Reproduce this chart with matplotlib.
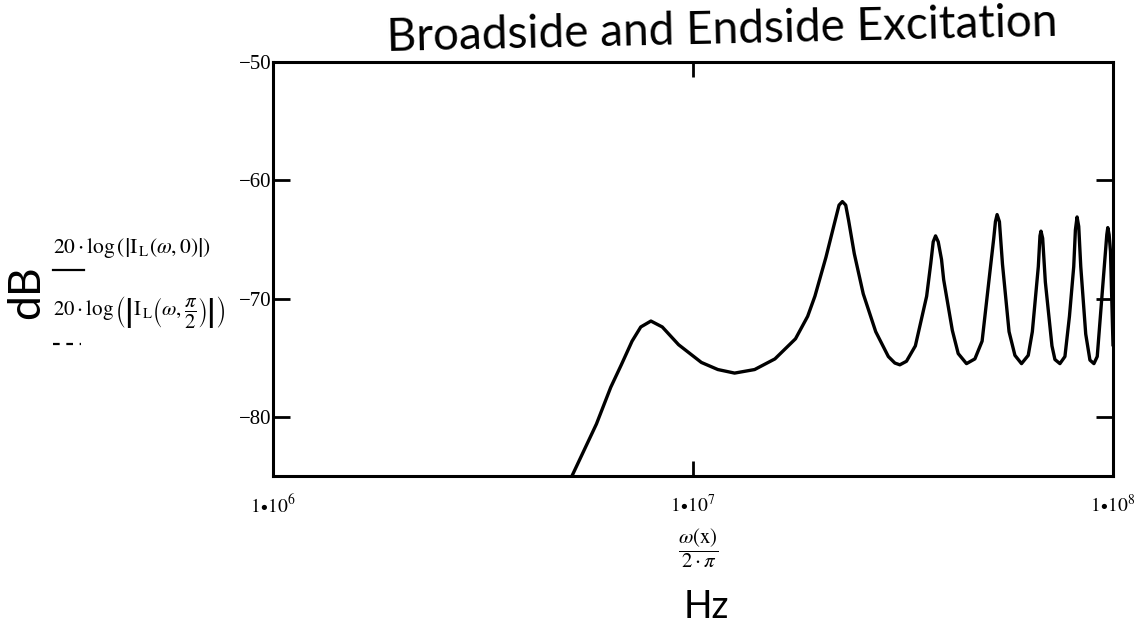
import matplotlib
matplotlib.use("Agg")
import matplotlib.pyplot as plt
from matplotlib.lines import Line2D

# ---- data (frequency in MHz, level in dB) ----
freq_mhz = [5.15, 5.89, 6.37, 6.75, 7.16, 7.51, 7.94, 8.45, 9.24, 10.47, 11.46, 12.56,
            14.02, 15.67, 17.54, 18.75, 19.51, 20.73, 21.8, 22.27, 22.68, 23.1, 23.47, 24.21, 25.43,
            27.23, 29.18, 30.24, 31.08, 32.23, 33.84, 36.0, 36.83, 37.32, 37.8, 38.36, 39.06,
            39.52, 41.45, 42.8, 44.79, 46.9, 48.79,
            51.17, 52.01, 52.49, 52.97, 53.65, 54.56, 56.56, 58.41, 60.56, 62.83, 64.26,
            66.4, 67.01, 67.38, 68.0, 69.01, 71.56, 72.73, 74.75, 76.83, 78.76,
            80.63, 81.37, 82.12, 82.87, 83.8, 86.11, 88.12, 90.07, 91.72, 93.93,
            96.66, 97.19, 97.9, 98.63, 100.0]
level_db = [-85.0, -80.6, -77.5, -75.6, -73.6, -72.4, -71.9, -72.4, -73.9, -75.4, -76.0, -76.3,
            -76.0, -75.1, -73.4, -71.5, -69.8, -66.5, -63.4, -62.1, -61.8, -62.1, -63.4, -66.2, -69.6,
            -72.8, -74.9, -75.45, -75.6, -75.3, -74.0, -69.8, -67.0, -65.2, -64.7, -65.2, -66.7,
            -68.4, -72.7, -74.65, -75.5, -75.1, -73.6,
            -67.1, -64.9, -63.5, -62.9, -63.5, -67.1, -72.8, -74.8, -75.5, -74.8, -72.8,
            -67.3, -64.7, -64.3, -64.9, -68.6, -74.0, -75.15, -75.5, -74.9, -71.5,
            -67.3, -64.2, -63.1, -63.9, -67.3, -73.0, -75.2, -75.5, -74.9, -70.2,
            -64.6, -64.0, -64.6, -66.0, -73.9]

x_ticks = [1e6, 1e7, 1e8]
x_tick_labels = [r"$1\!\bullet\!10^{6}$", r"$1\!\bullet\!10^{7}$", r"$1\!\bullet\!10^{8}$"]
y_ticks = [-50, -60, -70, -80]
y_tick_labels = ["\u221250", "\u221260", "\u221270", "\u221280"]

title = "Broadside and Endside Excitation"

plt.rcParams["mathtext.fontset"] = "stix"
plt.rcParams["font.family"] = ["Liberation Serif", "DejaVu Serif"]

W, H = 1144, 630
fig = plt.figure(figsize=(W / 100, H / 100), dpi=100)
ax = fig.add_axes([273 / W, 1 - 476 / H, 840 / W, 414 / H])

freq_hz = [f * 1e6 for f in freq_mhz]
ax.plot(freq_hz, level_db, color="black", lw=2.4, solid_joinstyle="round", clip_on=True)

ax.set_xscale("log")
ax.set_xlim(1e6, 1e8)
ax.set_ylim(-85, -50)

for sp in ax.spines.values():
    sp.set_linewidth(2.2)
    sp.set_color("black")

ax.set_xticks(x_ticks)
ax.set_xticklabels(x_tick_labels, fontsize=14)
ax.xaxis.set_minor_locator(matplotlib.ticker.NullLocator())
ax.tick_params(axis="x", which="major", direction="in", length=11, width=2,
               top=True, bottom=True, pad=13)

ax.set_yticks(y_ticks)
ax.set_yticklabels(y_tick_labels, fontsize=15)
ax.tick_params(axis="y", which="major", direction="in", length=12, width=2,
               left=True, right=True, pad=1)

# axis expression labels (Mathcad style)
fig.text(53 / W, 1 - 248 / H, r"$20\cdot\log\left(\left|\mathrm{I}_{\,\mathrm{L}}(\omega,0)\right|\right)$",
         fontsize=15.5, ha="left", va="center")
fig.add_artist(Line2D([53 / W, 84 / W], [1 - 270 / H, 1 - 270 / H], color="black", lw=1.6))
fig.text(53 / W, 1 - 312 / H,
         r"$20\cdot\log\left(\left|\mathrm{I}_{\,\mathrm{L}}\left(\omega,\dfrac{\pi}{2}\right)\right|\right)$",
         fontsize=15, ha="left", va="center")
fig.add_artist(Line2D([53 / W, 81 / W], [1 - 344 / H, 1 - 344 / H], color="black", lw=1.6,
                      linestyle=(0, (3, 3))))

fig.text(698 / W, 1 - 548 / H, r"$\dfrac{\omega(\mathrm{x})}{2\cdot\pi}$", fontsize=15,
         ha="center", va="center")

# handwritten annotations
hand = ["Lato", "DejaVu Sans"]
fig.text(722 / W, 1 - 30 / H, title, fontsize=33, ha="center", va="center",
         family=hand, fontweight="normal", color="black", rotation=1.3)
fig.text(27 / W, 1 - 292 / H, "dB", fontsize=32, ha="center", va="center",
         family=hand, fontweight="normal", color="black", rotation=90)
fig.text(706 / W, 1 - 607 / H, "Hz", fontsize=27, ha="center", va="center",
         family=hand, fontweight="normal", color="black")

fig.savefig("out.png", dpi=100, facecolor="white")
